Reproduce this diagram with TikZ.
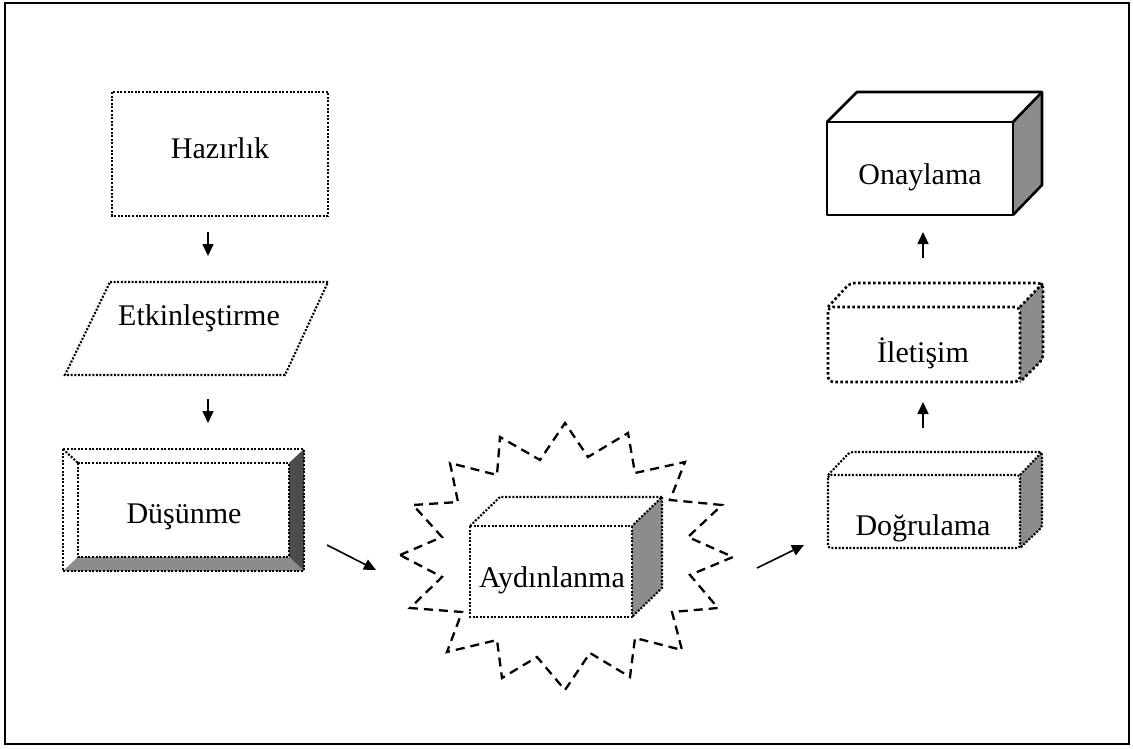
\documentclass[tikz,border=0pt]{standalone}
\usepackage{fontspec}
\setmainfont{Liberation Serif}
\usetikzlibrary{arrows.meta}
\begin{document}
\begin{tikzpicture}[x=1pt,y=-1pt,
  lbl/.style={inner sep=0pt,font=\fontsize{30}{36}\selectfont},
  dotline/.style={line width=2.1pt,dash pattern=on 2pt off 1.6pt},
  bigdot/.style={line width=2.6pt,dash pattern=on 2.6pt off 2.4pt},
  burst/.style={line width=2.3pt,dash pattern=on 9pt off 6pt},
  flow/.style={line width=1.6pt,-{Triangle[length=12pt,width=11pt]}},
  sidefill/.style={fill=black!45},
  darkfill/.style={fill=black!70}]
\useasboundingbox (0,0) rectangle (1133,749);
\draw[line width=1.8pt] (5,3) rectangle (1129,744);

% Hazirlik
\draw[dotline] (112,92) rectangle (328,216);
\node[lbl] (haz) at (220,148) {Hazırlık};

% Etkinlestirme
\draw[dotline] (110,282) -- (328,282) -- (285,375) -- (65,375) -- cycle;
\node[lbl] (etk) at (199,318) {Etkinleştirme};

% Dusunme (bevel)
\fill[darkfill] (289,463) -- (304,449) -- (304,571) -- (289,557) -- cycle;
\fill[sidefill] (78,557) -- (289,557) -- (304,571) -- (63,571) -- cycle;
\draw[dotline] (63,449) rectangle (304,571);
\draw[dotline] (78,463) rectangle (289,557);
\draw[dotline] (63,449) -- (78,463);
\node[lbl] (dus) at (184,517) {Düşünme};

% Starburst
\draw[burst] (400,555) -- (442,537) -- (413,505) -- (458,502) -- (450,463) -- (497,475)
  -- (500,437) -- (540,460) -- (565,423) -- (588,457) -- (628,433) -- (635,473)
  -- (685,462) -- (670,500) -- (722,505) -- (688,537) -- (733,557) -- (690,575)
  -- (718,608) -- (672,612) -- (682,650) -- (635,638) -- (630,677) -- (590,653)
  -- (565,690) -- (537,657) -- (502,678) -- (497,640) -- (447,652) -- (462,612)
  -- (410,608) -- (442,577) -- cycle;

% Aydinlanma cube
\fill[sidefill] (632,526) -- (662,497) -- (662,588) -- (632,617) -- cycle;
\draw[dotline] (470,526) rectangle (632,617);
\draw[dotline] (470,526) -- (500,497) -- (662,497) -- (632,526);
\draw[dotline] (662,497) -- (662,588) -- (632,617);
\node[lbl] (ayd) at (552,580) {Aydınlanma};

% Dogrulama
\fill[sidefill] (1020,475) -- (1042,452) -- (1042,527) -- (1020,548) -- cycle;
\draw[dotline,rounded corners=3pt] (828,475) rectangle (1020,548);
\draw[dotline,rounded corners=3pt] (828,475) -- (850,452) -- (1042,452) -- (1042,527) -- (1020,548);
\draw[dotline] (1020,475) -- (1042,452);
\node[lbl] (dog) at (923,528) {Doğrulama};

% Iletisim
\fill[sidefill] (1020,307) -- (1043,283) -- (1043,359) -- (1020,382) -- cycle;
\draw[bigdot,rounded corners=5pt] (828,307) rectangle (1020,382);
\draw[bigdot,rounded corners=5pt] (828,307) -- (850,283) -- (1043,283) -- (1043,359) -- (1020,382);
\draw[bigdot] (1020,307) -- (1043,283);
\node[lbl] (ile) at (923,353) {İletişim};

% Onaylama
\fill[sidefill] (1013,122) -- (1042,92) -- (1042,185) -- (1013,215) -- cycle;
\draw[line width=2.6pt,line join=round] (827,122) rectangle (1013,215);
\draw[line width=2.6pt,line join=round] (827,122) -- (857,92) -- (1042,92) -- (1042,185) -- (1013,215);
\draw[line width=2.6pt] (1013,122) -- (1042,92);
\node[lbl] (ona) at (920,177) {Onaylama};

% arrows
\coordinate (a1s) at (208,232); \coordinate (a1e) at (208,256);
\coordinate (a2s) at (208,399); \coordinate (a2e) at (208,423);
\coordinate (a3s) at (327,545); \coordinate (a3e) at (376,570);
\coordinate (a4s) at (757,568); \coordinate (a4e) at (804,545);
\coordinate (a5s) at (923,428); \coordinate (a5e) at (923,402);
\coordinate (a6s) at (923,258); \coordinate (a6e) at (923,232);
\draw[flow] (a1s) -- (a1e);
\draw[flow] (a2s) -- (a2e);
\draw[flow] (a3s) -- (a3e);
\draw[flow] (a4s) -- (a4e);
\draw[flow] (a5s) -- (a5e);
\draw[flow] (a6s) -- (a6e);
\end{tikzpicture}
\end{document}
